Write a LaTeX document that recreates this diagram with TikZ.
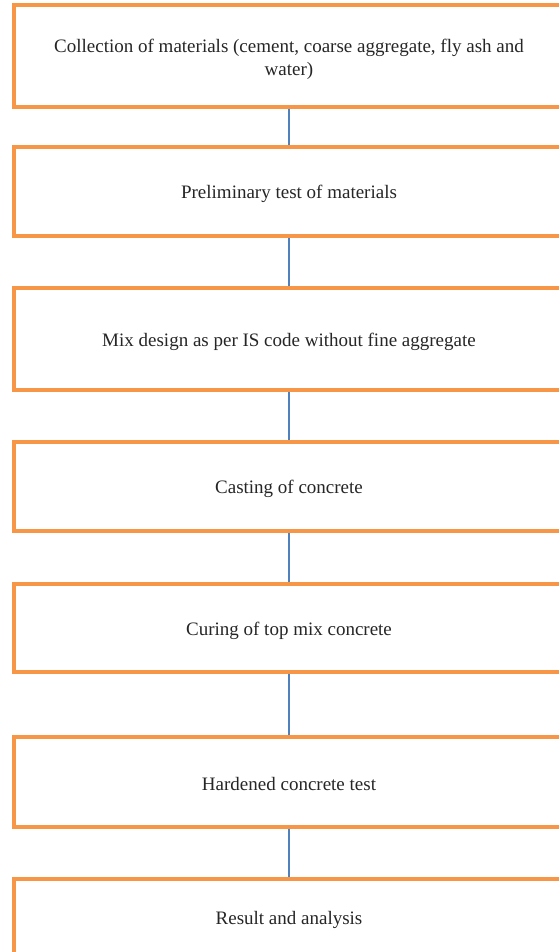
\documentclass[tikz,border=0pt]{standalone}
\usepackage{fontspec}
\setmainfont{Liberation Serif}
\definecolor{boxorange}{HTML}{F79646}
\definecolor{linkblue}{HTML}{4F81BD}
\begin{document}
\begin{tikzpicture}[x=1pt,y=-1pt,
  stepbox/.style={draw=boxorange, line width=3.5pt, fill=white, rectangle,
    minimum width=550pt, inner sep=0pt},
  steptext/.style={inner sep=0pt, align=center,
    font=\fontsize{19}{23}\selectfont, text=black!85},
  link/.style={draw=linkblue, line width=1.3pt}]
\useasboundingbox (0,0) rectangle (558,952);
\node[stepbox, minimum height=102pt] (b1) at (289,56) {};
\node[stepbox, minimum height=89pt] (b2) at (289,191.5) {};
\node[stepbox, minimum height=102pt] (b3) at (289,339) {};
\node[stepbox, minimum height=89pt] (b4) at (289,486.5) {};
\node[stepbox, minimum height=88pt] (b5) at (289,628) {};
\node[stepbox, minimum height=90pt] (b6) at (289,782) {};
\node[stepbox, minimum height=78pt] (b7) at (289,918) {};
\node[steptext] (t1) at ([yshift=-3.5pt]b1.center) {Collection of materials (cement, coarse aggregate, fly ash and\\ water)};
\node[steptext] (t2) at ([yshift=-2.5pt]b2.center) {Preliminary test of materials};
\node[steptext] (t3) at ([yshift=-2.5pt]b3.center) {Mix design as per IS code without fine aggregate};
\node[steptext] (t4) at ([yshift=-2.5pt]b4.center) {Casting of concrete};
\node[steptext] (t5) at ([yshift=-2.5pt]b5.center) {Curing of top mix concrete};
\node[steptext] (t6) at ([yshift=-1.5pt]b6.center) {Hardened concrete test};
\node[steptext] (t7) at ([yshift=-1.5pt]b7.center) {Result and analysis};
\draw[link] (b1.south) -- (b2.north);
\draw[link] (b2.south) -- (b3.north);
\draw[link] (b3.south) -- (b4.north);
\draw[link] (b4.south) -- (b5.north);
\draw[link] (b5.south) -- (b6.north);
\draw[link] (b6.south) -- (b7.north);
\end{tikzpicture}
\end{document}
